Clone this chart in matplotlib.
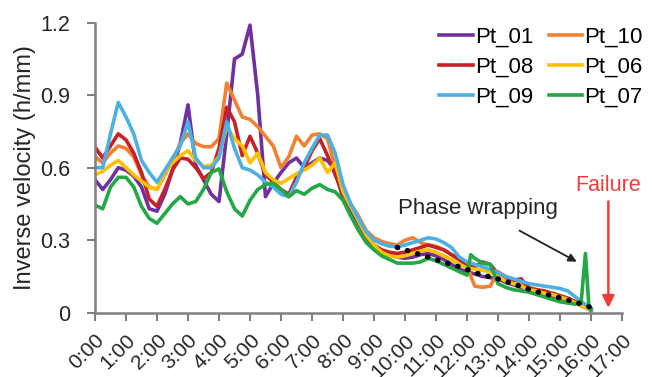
import numpy as np
import matplotlib
matplotlib.use("Agg")
import matplotlib.pyplot as plt
import matplotlib.transforms as mtransforms

plt.rcParams['font.family'] = ['Liberation Sans', 'DejaVu Sans']

# time axis (hours), one reading every 15 min
hours = np.arange(0, 16.01, 0.25)

pt01 = [0.55, 0.51, 0.55, 0.60, 0.59, 0.565, 0.52, 0.43,
        0.42, 0.49, 0.59, 0.70, 0.86, 0.61, 0.55, 0.49,
        0.46, 0.74, 1.05, 1.07, 1.19, 0.90, 0.48, 0.535,
        0.58, 0.62, 0.64, 0.60, 0.62, 0.64, 0.63, 0.59,
        0.47, 0.42, 0.37, 0.31, 0.27, 0.25, 0.24, 0.23,
        0.225, 0.23, 0.24, 0.245, 0.235, 0.22, 0.20, 0.18,
        0.17, 0.16, 0.15, 0.145, 0.14, 0.125, 0.115, 0.105,
        0.095, 0.085, 0.08, 0.07, 0.06, 0.05, 0.04, 0.025,
        0.01]
pt10 = [0.645, 0.62, 0.66, 0.69, 0.68, 0.645, 0.57, 0.52,
        0.51, 0.57, 0.63, 0.70, 0.74, 0.70, 0.687, 0.687,
        0.72, 0.95, 0.88, 0.81, 0.80, 0.77, 0.73, 0.69,
        0.60, 0.645, 0.73, 0.69, 0.735, 0.74, 0.72, 0.60,
        0.52, 0.45, 0.40, 0.34, 0.31, 0.295, 0.285, 0.28,
        0.30, 0.31, 0.29, 0.28, 0.275, 0.26, 0.24, 0.22,
        0.19, 0.11, 0.105, 0.11, 0.17, 0.15, 0.13, 0.12,
        0.105, 0.095, 0.085, 0.08, 0.07, 0.06, 0.045, 0.03,
        0.015]
pt08 = [0.685, 0.64, 0.69, 0.74, 0.715, 0.66, 0.58, 0.47,
        0.44, 0.51, 0.59, 0.64, 0.635, 0.60, 0.555, 0.58,
        0.68, 0.85, 0.79, 0.65, 0.73, 0.66, 0.57, 0.54,
        0.51, 0.49, 0.56, 0.60, 0.67, 0.72, 0.65, 0.57,
        0.49, 0.44, 0.38, 0.32, 0.28, 0.26, 0.25, 0.245,
        0.25, 0.26, 0.27, 0.28, 0.27, 0.26, 0.24, 0.22,
        0.20, 0.19, 0.21, 0.20, 0.16, 0.14, 0.135, 0.14,
        0.10, 0.095, 0.09, 0.08, 0.07, 0.06, 0.045, 0.03,
        0.015]
pt06 = [0.57, 0.585, 0.61, 0.63, 0.60, 0.57, 0.545, 0.52,
        0.51, 0.58, 0.62, 0.65, 0.67, 0.63, 0.605, 0.61,
        0.645, 0.77, 0.72, 0.69, 0.62, 0.66, 0.58, 0.55,
        0.535, 0.555, 0.575, 0.59, 0.61, 0.64, 0.58, 0.62,
        0.50, 0.44, 0.38, 0.32, 0.28, 0.25, 0.235, 0.23,
        0.235, 0.245, 0.255, 0.26, 0.25, 0.235, 0.22, 0.20,
        0.185, 0.18, 0.175, 0.17, 0.15, 0.13, 0.12, 0.11,
        0.095, 0.09, 0.08, 0.075, 0.065, 0.055, 0.04, 0.025,
        0.01]
pt09 = [0.60, 0.60, 0.74, 0.87, 0.81, 0.74, 0.63, 0.58,
        0.54, 0.59, 0.64, 0.69, 0.79, 0.64, 0.60, 0.60,
        0.64, 0.79, 0.68, 0.60, 0.59, 0.57, 0.54, 0.52,
        0.49, 0.48, 0.54, 0.62, 0.68, 0.735, 0.735, 0.66,
        0.53, 0.45, 0.39, 0.335, 0.30, 0.285, 0.275, 0.273,
        0.28, 0.29, 0.30, 0.31, 0.305, 0.29, 0.27, 0.23,
        0.21, 0.20, 0.19, 0.18, 0.165, 0.15, 0.14, 0.13,
        0.12, 0.115, 0.11, 0.105, 0.10, 0.09, 0.065, 0.04,
        0.02]
# Pt_07 has extra readings around the phase-wrapping spikes
hours_07 = np.concatenate([hours[:49], [12.12], hours[49:63], [15.68, 15.82, 15.93, 16.0]])
pt07 = [0.445, 0.43, 0.52, 0.56, 0.56, 0.52, 0.44, 0.39,
        0.37, 0.41, 0.45, 0.48, 0.45, 0.46, 0.51, 0.58,
        0.595, 0.50, 0.43, 0.40, 0.465, 0.51, 0.53, 0.535,
        0.51, 0.48, 0.505, 0.49, 0.515, 0.53, 0.51, 0.50,
        0.465, 0.40, 0.34, 0.29, 0.26, 0.235, 0.22, 0.205,
        0.205, 0.205, 0.21, 0.225, 0.215, 0.20, 0.185, 0.17,
        0.155, 0.24, 0.225, 0.205, 0.20, 0.12, 0.105, 0.095, 0.09,
        0.085, 0.075, 0.065, 0.055, 0.045, 0.04, 0.035,
        0.04, 0.245, 0.03, 0.01]

trend_hours = [9.75, 10.5, 11.1, 11.8, 12.4, 13.05, 13.7, 14.15, 14.9, 15.6, 16.2]
trend = [0.27, 0.24, 0.215, 0.188, 0.16, 0.138, 0.11, 0.09, 0.065, 0.04, 0.012]

tick_labels = ['%d:00' % h for h in range(18)]

fig = plt.figure(figsize=(6.52, 3.77), dpi=100)
ax = fig.add_axes([0.1457, 0.1706, 0.8083, 0.7692])

lw = 2.6
l01, = ax.plot(hours, pt01, color='#7030A0', lw=lw, label='Pt_01')
l10, = ax.plot(hours, pt10, color='#F28031', lw=lw, label='Pt_10')
l08, = ax.plot(hours, pt08, color='#C62126', lw=lw, label='Pt_08')
l06, = ax.plot(hours, pt06, color='#FFC000', lw=lw, label='Pt_06')
l09, = ax.plot(hours, pt09, color='#4CB0E4', lw=lw, label='Pt_09')
l07, = ax.plot(hours_07, pt07, color='#22A845', lw=lw, label='Pt_07')
ax.plot(trend_hours, trend, color='black', lw=3.8, ls=(0, (0.1, 1.9)),
        dash_capstyle='round', zorder=5)

ax.set_xlim(0, 17)
ax.set_ylim(0, 1.2)
ax.set_xticks(range(18))
ax.set_xticklabels(tick_labels, rotation=45, ha='right', va='top',
                   rotation_mode='anchor', fontsize=15, color='#262626')
# nudge the rotated labels a little to the right, as in the original
shift = mtransforms.ScaledTranslation(3 / 100, 0, fig.dpi_scale_trans)
for lab in ax.get_xticklabels():
    lab.set_transform(lab.get_transform() + shift)
ax.set_yticks([0, 0.3, 0.6, 0.9, 1.2])
ax.set_yticklabels(['0', '0.3', '0.6', '0.9', '1.2'], fontsize=15.5, color='#262626')
ax.tick_params(axis='y', length=6, width=1.5, color='#7f7f7f', pad=12)
ax.tick_params(axis='x', length=6, width=1.5, color='#7f7f7f', pad=7)
for s in ['top', 'right']:
    ax.spines[s].set_visible(False)
for s in ['left', 'bottom']:
    ax.spines[s].set_color('#7f7f7f')
    ax.spines[s].set_linewidth(1.8)

ax.set_ylabel('Inverse velocity (h/mm)', fontsize=17, color='#262626', labelpad=3)

fig.legend(handles=[l01, l08, l09, l10, l06, l07], ncol=2, frameon=False,
           loc='upper right', bbox_to_anchor=(0.986, 0.93), fontsize=16,
           handlelength=1.5, handletextpad=0.1, columnspacing=0.7,
           labelspacing=0.42, borderaxespad=0, borderpad=0)

ax.annotate('Phase wrapping', xy=(15.54, 0.211), xytext=(12.35, 0.433),
            ha='center', va='center', fontsize=16, color='#262626',
            arrowprops=dict(arrowstyle='-|>', color='#222222', lw=1.3,
                            mutation_scale=12, shrinkA=14, shrinkB=0))
ax.annotate('', xy=(16.56, 0.02), xytext=(16.56, 0.46),
            arrowprops=dict(arrowstyle='-|>', color='#F23C3C', lw=1.8,
                            mutation_scale=18, shrinkA=0, shrinkB=0))
ax.text(16.56, 0.528, 'Failure', ha='center', va='center', fontsize=15.5,
        color='#F23C3C', clip_on=False)

fig.savefig('out.png', dpi=100)
